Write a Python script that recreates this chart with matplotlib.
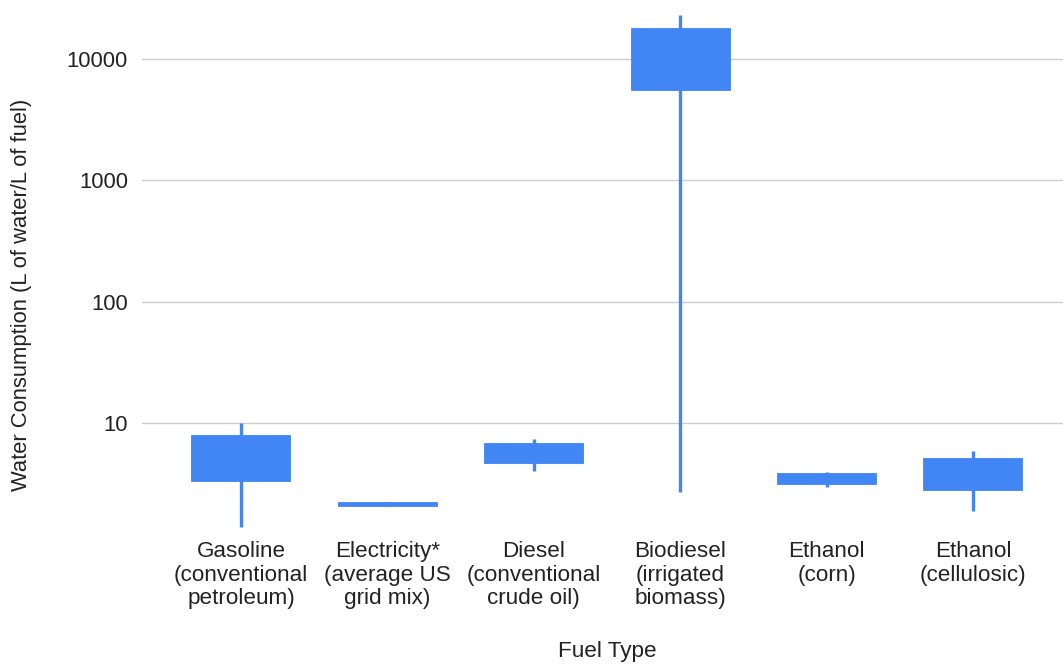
import matplotlib
matplotlib.use("Agg")
import matplotlib.pyplot as plt
from matplotlib.ticker import FixedLocator, NullLocator

plt.rcParams['font.family'] = ['Liberation Sans', 'DejaVu Sans']

categories = [
    "Gasoline\n(conventional\npetroleum)",
    "Electricity*\n(average US\ngrid mix)",
    "Diesel\n(conventional\ncrude oil)",
    "Biodiesel\n(irrigated\nbiomass)",
    "Ethanol\n(corn)",
    "Ethanol\n(cellulosic)",
]
low = [1.4, 2.1, 4.07, 2.7, 2.97, 1.9]
box_bottom = [3.37, 2.1, 4.68, 5560, 3.15, 2.82]
box_top = [7.96, 2.25, 6.84, 18150, 3.87, 5.15]
high = [10.0, 2.25, 7.38, 23070, 3.97, 5.92]
y_ticks = [10, 100, 1000, 10000]

BLUE = "#4285f4"
TEXT = "#222222"

W, H = 1063, 664
fig = plt.figure(figsize=(W / 100, H / 100), dpi=100)
ax = fig.add_axes([142 / W, (H - 530) / H, 921 / W, 520 / H])

x = list(range(len(categories)))
ax.vlines(x, low, high, colors=BLUE, linewidth=2.4, zorder=3)
ax.bar(x, [t - b for t, b in zip(box_top, box_bottom)], bottom=box_bottom,
       width=0.676, color=BLUE, edgecolor=BLUE, linewidth=0.6, zorder=4)

ax.set_yscale("log")
ax.set_ylim(1.322, 25350)
ax.set_xlim(-0.676, 5.615)
ax.yaxis.set_major_locator(FixedLocator(y_ticks))
ax.yaxis.set_minor_locator(NullLocator())
ax.set_yticklabels([str(v) for v in y_ticks])
ax.grid(axis="y", color="#cccccc", linewidth=1.0, zorder=0)
ax.set_axisbelow(True)

ax.set_xticks(x)
ax.set_xticklabels(categories, fontsize=16.2, color=TEXT, linespacing=1.15, va="top")
ax.tick_params(axis="x", length=0, pad=8)
ax.tick_params(axis="y", length=0, pad=10, labelsize=15.8, labelcolor=TEXT)
for s in ax.spines.values():
    s.set_visible(False)

fig.text(607 / W, 1 - 652 / H, "Fuel Type", ha="center", va="center",
         fontsize=16.2, color=TEXT)
fig.text(22 / W, 1 - 295 / H, "Water Consumption (L of water/L of fuel)",
         ha="center", va="center", rotation=90, fontsize=15.8, color=TEXT)

fig.savefig("out.png", dpi=100, facecolor="white")
